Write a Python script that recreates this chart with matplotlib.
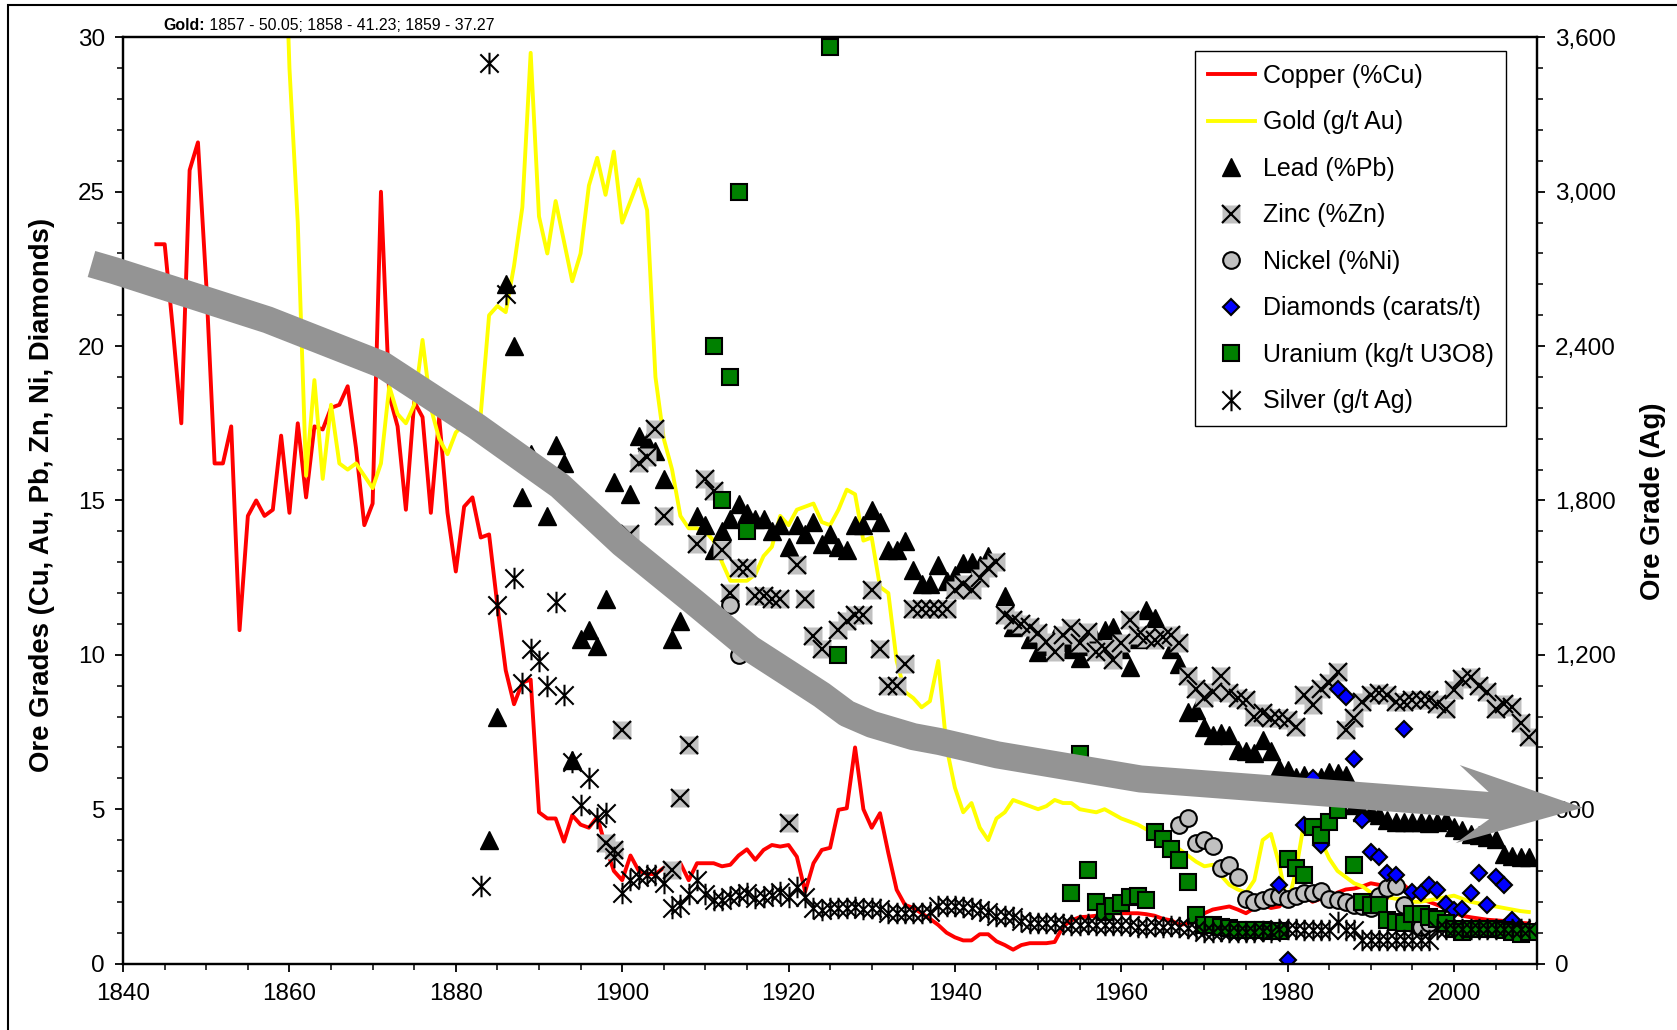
import matplotlib
matplotlib.use("Agg")
import matplotlib.pyplot as plt
from matplotlib.lines import Line2D
from matplotlib.patches import Polygon, Rectangle
from matplotlib.path import Path
from matplotlib.ticker import MultipleLocator, StrMethodFormatter

plt.rcParams['font.family'] = ['Liberation Sans', 'DejaVu Sans']

# ---- data ----
copper_years = list(range(1844, 2010))
copper = [23.3, 23.3, 20.5, 17.5, 25.7, 26.6, 22.0, 16.2, 16.2, 17.4,
          10.8, 14.5, 15.0, 14.5, 14.7, 17.1, 14.6, 17.5, 15.1, 17.4,
          17.3, 18.0, 18.1, 18.7, 16.7, 14.2, 14.9, 25.0, 18.4, 17.4,
          14.7, 18.2, 17.7, 14.6, 17.7, 14.6, 12.7, 14.8, 15.1, 13.8,
          13.9, 11.6, 9.5, 8.4, 9.1, 9.2, 4.9, 4.7, 4.7, 3.95,
          4.8, 4.5, 4.4, 4.75, 3.8, 3.0, 2.7, 3.5, 3.0, 2.9,
          2.9, 3.1, 3.2, 3.25, 2.7, 3.25, 3.25, 3.25, 3.15, 3.2,
          3.5, 3.7, 3.36, 3.68, 3.84, 3.79, 3.84, 3.46, 2.33, 3.25,
          3.68, 3.75, 4.98, 5.03, 7.0, 5.0, 4.4, 4.87, 3.58, 2.39,
          1.9, 1.8, 1.63, 1.45, 1.25, 1.0, 0.85, 0.75, 0.75, 0.95,
          0.95, 0.72, 0.6, 0.45, 0.6, 0.66, 0.66, 0.66, 0.7, 1.2,
          1.4, 1.5, 1.52, 1.55, 1.6, 1.63, 1.63, 1.63, 1.63, 1.6,
          1.55, 1.45, 1.4, 1.25, 1.3, 1.42, 1.63, 1.75, 1.8, 1.85,
          1.75, 1.63, 1.8, 1.9, 1.8, 1.85, 2.2, 2.4, 2.2, 2.0,
          2.1, 2.1, 2.3, 2.4, 2.43, 2.5, 2.6, 2.55, 2.54, 2.54,
          2.54, 2.3, 2.1, 2.0, 1.9, 1.78, 1.65, 1.55, 1.5, 1.46,
          1.42, 1.4, 1.38, 1.35, 1.32, 1.3]

gold_years = list(range(1857, 2010))
gold = [50.05, 41.23, 37.27, 29.0, 24.0, 15.8, 18.9, 15.7, 18.1, 16.2,
        16.0, 16.2, 15.8, 15.4, 16.2, 18.7, 17.8, 17.5, 18.1, 20.2,
        18.0, 17.0, 16.5, 17.2, 17.5, 17.2, 17.8, 21.0, 21.3, 21.1,
        22.6, 24.5, 29.5, 24.2, 23.0, 24.7, 23.4, 22.1, 23.0, 25.2,
        26.1, 24.9, 26.3, 24.0, 24.7, 25.4, 24.4, 19.0, 17.0, 16.0,
        14.5, 14.1, 14.1, 14.0, 13.7, 13.0, 12.4, 12.4, 12.4, 12.6,
        13.2, 13.5, 14.5, 14.2, 14.7, 14.8, 14.9, 14.3, 14.2, 14.7,
        15.35, 15.2, 13.7, 13.8, 12.2, 12.0, 9.8, 8.8, 8.6, 8.3,
        8.5, 9.8, 7.0, 5.7, 4.9, 5.2, 4.4, 4.0, 4.7, 4.9,
        5.3, 5.2, 5.1, 5.0, 5.1, 5.3, 5.2, 5.2, 5.0, 4.95,
        4.9, 5.0, 4.85, 4.7, 4.6, 4.5, 4.35, 4.2, 4.0, 3.9,
        3.7, 3.5, 3.3, 3.15, 3.2, 2.85, 2.55, 2.4, 2.3, 2.7,
        4.0, 4.2, 3.2, 1.9, 3.0, 4.6, 4.5, 4.0, 3.4, 3.0,
        2.8, 2.6, 2.5, 2.3, 2.2, 2.15, 2.1, 2.1, 2.0, 2.0,
        2.05, 2.1, 2.15, 2.2, 2.1, 2.0, 1.95, 1.9, 1.85, 1.8,
        1.75, 1.7, 1.67]

lead_years = [1884, 1885, 1886, 1887, 1888, 1889, 1891, 1892, 1893, 1894,
              1895, 1896, 1897, 1898, 1899, 1901, 1902, 1903, 1904, 1905,
              1906, 1907, 1909, 1910, 1911, 1912, 1913, 1914, 1915, 1916,
              1917, 1918, 1919, 1920, 1921, 1922, 1923, 1924, 1925, 1926,
              1927, 1928, 1929, 1930, 1931, 1932, 1933, 1934, 1935, 1936,
              1937, 1938, 1939, 1940, 1941, 1942, 1943, 1944, 1946, 1947,
              1948, 1949, 1950, 1951, 1952, 1953, 1954, 1955, 1956, 1957,
              1958, 1959, 1960, 1961, 1962, 1963, 1964, 1965, 1966, 1967,
              1968, 1969, 1970, 1971, 1972, 1973, 1974, 1975, 1976, 1977,
              1978, 1979, 1980, 1981, 1982, 1983, 1984, 1985, 1986, 1987,
              1988, 1989, 1990, 1991, 1992, 1993, 1994, 1995, 1996, 1997,
              1998, 1999, 2000, 2001, 2002, 2003, 2004, 2005, 2006, 2007,
              2008, 2009]
lead = [4.0, 8.0, 22.0, 20.0, 15.1, 16.5, 14.5, 16.8, 16.2, 6.6,
        10.5, 10.8, 10.3, 11.8, 15.6, 15.2, 17.1, 16.9, 16.6, 15.7,
        10.5, 11.1, 14.5, 14.2, 13.4, 14.0, 14.4, 14.9, 14.6, 14.4,
        14.4, 14.0, 14.2, 13.5, 14.2, 13.9, 14.3, 13.6, 13.9, 13.5,
        13.4, 14.2, 14.2, 14.7, 14.3, 13.4, 13.4, 13.7, 12.75, 12.3,
        12.3, 12.9, 12.4, 12.6, 12.97, 13.0, 12.9, 13.2, 11.9, 10.9,
        11.0, 10.5, 10.1, 10.3, 10.6, 10.4, 10.2, 9.9, 10.3, 10.5,
        10.8, 10.9, 10.2, 9.6, 10.5, 11.45, 11.2, 10.6, 10.2, 9.7,
        8.16, 8.2, 7.67, 7.4, 7.46, 7.4, 6.92, 6.87, 6.81, 7.24,
        6.87, 6.32, 6.27, 6.05, 6.1, 5.95, 6.05, 6.2, 6.16, 6.1,
        5.13, 4.9, 4.9, 4.8, 4.64, 4.59, 4.59, 4.59, 4.59, 4.54,
        4.6, 4.64, 4.43, 4.32, 4.21, 4.16, 4.1, 4.05, 3.56, 3.5,
        3.46, 3.46]

zinc_years = [1898, 1899, 1900, 1901, 1902, 1903, 1904, 1905, 1906, 1907,
              1908, 1909, 1910, 1911, 1912, 1913, 1914, 1915, 1916, 1917,
              1918, 1919, 1920, 1921, 1922, 1923, 1924, 1926, 1927, 1928,
              1929, 1930, 1931, 1932, 1933, 1934, 1935, 1936, 1937, 1938,
              1939, 1940, 1941, 1942, 1943, 1944, 1945, 1946, 1947, 1948,
              1949, 1950, 1951, 1952, 1953, 1954, 1955, 1956, 1957, 1958,
              1959, 1960, 1961, 1962, 1963, 1964, 1965, 1966, 1967, 1968,
              1969, 1970, 1971, 1972, 1973, 1974, 1975, 1976, 1977, 1978,
              1979, 1980, 1981, 1982, 1983, 1984, 1985, 1986, 1987, 1988,
              1989, 1990, 1991, 1992, 1993, 1994, 1995, 1996, 1997, 1998,
              1999, 2000, 2001, 2002, 2003, 2004, 2005, 2006, 2007, 2008,
              2009]
zinc = [3.9, 3.68, 7.57, 13.9, 16.2, 16.4, 17.3, 14.5, 3.03, 5.35,
        7.08, 13.6, 15.7, 15.3, 13.4, 12.0, 12.8, 12.8, 11.9, 11.9,
        11.8, 11.8, 4.54, 12.9, 11.8, 10.6, 10.2, 10.8, 11.1, 11.3,
        11.3, 12.1, 10.2, 9.0, 9.0, 9.7, 11.5, 11.5, 11.5, 11.5,
        11.5, 12.1, 12.3, 12.1, 12.5, 12.8, 13.0, 11.3, 11.13, 11.0,
        10.9, 10.7, 10.4, 10.1, 10.65, 10.86, 10.37, 10.75, 10.1, 10.2,
        9.83, 10.37, 11.13, 10.65, 10.54, 10.48, 10.59, 10.65, 10.37, 9.3,
        8.9, 8.6, 8.8, 9.3, 8.75, 8.6, 8.54, 8.0, 8.1, 7.94,
        7.94, 7.89, 7.67, 8.7, 8.37, 8.9, 9.1, 9.45, 7.56, 7.94,
        8.48, 8.7, 8.75, 8.7, 8.48, 8.48, 8.53, 8.53, 8.53, 8.42,
        8.26, 8.86, 9.23, 9.29, 9.0, 8.8, 8.26, 8.42, 8.32, 7.78,
        7.34]

nickel_years = [1913, 1914, 1967, 1968, 1969, 1970, 1971, 1972, 1973, 1974,
                1975, 1976, 1977, 1978, 1979, 1980, 1981, 1982, 1983, 1984,
                1985, 1986, 1987, 1988, 1989, 1990, 1991, 1992, 1993, 1994,
                1995, 1996, 1997]
nickel = [11.6, 10.0, 4.5, 4.7, 3.9, 4.0, 3.8, 3.1, 3.2, 2.8,
          2.1, 2.0, 2.05, 2.15, 2.2, 2.1, 2.2, 2.3, 2.3, 2.35,
          2.1, 2.05, 2.0, 1.9, 1.85, 1.8, 2.2, 2.45, 2.5, 1.9,
          1.3, 1.2, 1.3]

diamond_years = [1979, 1980, 1982, 1983, 1984, 1986, 1987, 1988, 1989, 1990,
                 1991, 1992, 1993, 1994, 1995, 1996, 1997, 1998, 1999, 2000,
                 2001, 2002, 2003, 2004, 2005, 2006, 2007]
diamonds = [2.54, 0.1, 4.48, 6.0, 3.83, 8.9, 8.64, 6.64, 4.64, 3.62,
            3.46, 2.92, 2.86, 7.6, 2.32, 2.27, 2.54, 2.38, 1.94, 1.73,
            1.78, 2.27, 2.92, 1.89, 2.81, 2.54, 1.4]

uranium_years = [1911, 1912, 1913, 1914, 1915, 1925, 1926, 1954, 1955, 1956,
                 1957, 1958, 1959, 1960, 1961, 1962, 1963, 1964, 1965, 1966,
                 1967, 1968, 1969, 1970, 1971, 1972, 1973, 1974, 1975, 1976,
                 1977, 1978, 1979, 1980, 1981, 1982, 1983, 1984, 1985, 1986,
                 1988, 1989, 1990, 1991, 1992, 1993, 1994, 1995, 1996, 1997,
                 1998, 1999, 2000, 2001, 2002, 2003, 2004, 2005, 2006, 2007,
                 2008, 2009]
uranium = [20.0, 15.0, 19.0, 25.0, 14.0, 29.7, 10.0, 2.28, 6.8, 3.03,
           2.0, 1.68, 1.85, 1.95, 2.17, 2.2, 2.05, 4.27, 4.05, 3.7,
           3.35, 2.65, 1.58, 1.25, 1.25, 1.2, 1.15, 1.1, 1.1, 1.1,
           1.1, 1.05, 1.05, 3.4, 3.08, 2.86, 4.43, 4.16, 4.6, 4.97,
           3.19, 2.0, 1.9, 1.9, 1.4, 1.35, 1.3, 1.6, 1.6, 1.5,
           1.45, 1.3, 1.13, 1.03, 1.13, 1.13, 1.13, 1.13, 1.08, 1.03,
           0.97, 1.03]

# silver in g/t, plotted against the right-hand axis
silver_years = list(range(1883, 2010))
silver = [300, 3500, 1392, 2604, 1500, 1092, 1224, 1176, 1080, 1404,
          1044, 785, 617, 720, 564, 584, 415, 274, 324, 336,
          344, 344, 312, 216, 228, 272, 324, 272, 247, 247,
          260, 266, 274, 254, 260, 266, 280, 260, 299, 260,
          215, 209, 215, 215, 215, 218, 214, 215, 212, 197,
          197, 198, 196, 197, 200, 222, 222, 224, 220, 215,
          210, 200, 186, 186, 180, 165, 157, 158, 157, 156,
          155, 151, 151, 152, 151, 150, 151, 148, 148, 144,
          144, 145, 144, 145, 144, 140, 136, 124, 124, 125,
          124, 124, 123, 124, 125, 124, 136, 136, 134, 132,
          132, 131, 132, 162, 132, 132, 91, 92, 90, 91,
          90, 91, 92, 90, 91, 136, 136, 135, 136, 134,
          136, 135, 136, 134, 135, 136, 134]

# decorative trend arrow (centre line, data units)
arrow_x = [1836.2, 1839.0, 1857.4, 1871.2, 1882.5, 1892.5, 1900.0, 1908.6,
           1915.4, 1920.0, 1924.0, 1927.0, 1930.0, 1935.0, 1938.2, 1945.1,
           1962.3, 1986.3, 2004.6]
arrow_y = [22.66, 22.44, 20.85, 19.39, 17.4, 15.48, 13.6, 11.72,
           10.2, 9.4, 8.7, 8.1, 7.75, 7.35, 7.19, 6.76,
           5.98, 5.49, 5.11]
arrow_head = [(2000.7, 6.43), (2015.5, 5.05), (2000.2, 3.90),
              (2004.2, 4.67), (2004.2, 5.55)]

# ---- figure ----
fig = plt.figure(figsize=(16.77, 10.30), dpi=100)
ax = fig.add_axes([0.0734, 0.0645, 0.8432, 0.8992])
ax2 = ax.twinx()

grey = '#c0c0c0'
ax.plot(copper_years, copper, color='#ff0000', lw=2.8, zorder=2)
ax.plot(gold_years, gold, color='#ffff00', lw=2.8, zorder=2)
ax.plot(lead_years, lead, ls='', marker='^', ms=13, color='black', zorder=3)
ax.plot(zinc_years, zinc, ls='', marker='s', ms=12.5, mfc=grey, mec='none', zorder=4)
ax.plot(zinc_years, zinc, ls='', marker='x', ms=12.5, mew=1.6, color='black', zorder=4)
ax.plot(nickel_years, nickel, ls='', marker='o', ms=12, mfc=grey, mec='black', mew=1.5, zorder=5)
ax.plot(diamond_years, diamonds, ls='', marker='D', ms=8.5, mfc='#0000ff', mec='black', mew=1.5, zorder=6)
ax.plot(uranium_years, uranium, ls='', marker='s', ms=12, mfc='#008000', mec='black', mew=1.5, zorder=7)

star = Path([(-0.85, -0.85), (0.85, 0.85), (-0.85, 0.85), (0.85, -0.85), (0, -1), (0, 1)],
            [Path.MOVETO, Path.LINETO, Path.MOVETO, Path.LINETO, Path.MOVETO, Path.LINETO])
ax2.plot(silver_years, silver, ls='', marker=star, ms=15.5, mew=1.5, mec='black', mfc='none', zorder=3)

# trend arrow drawn on top of everything (also over the right tick labels)
ax2.plot(arrow_x, arrow_y, color='#949494', lw=19.5, solid_capstyle='butt',
         solid_joinstyle='round', transform=ax.transData, clip_on=False, zorder=10)
ax2.add_patch(Polygon(arrow_head, closed=True, facecolor='#949494', edgecolor='none',
                      transform=ax.transData, clip_on=False, zorder=10))

# ---- axes ----
ax.set_xlim(1840, 2010)
ax.set_ylim(0, 30)
ax2.set_ylim(0, 3600)
ax.xaxis.set_major_locator(MultipleLocator(20))
ax.xaxis.set_minor_locator(MultipleLocator(5))
ax.yaxis.set_major_locator(MultipleLocator(5))
ax.yaxis.set_minor_locator(MultipleLocator(1))
ax2.yaxis.set_major_locator(MultipleLocator(600))
ax2.yaxis.set_minor_locator(MultipleLocator(120))
ax2.yaxis.set_major_formatter(StrMethodFormatter('{x:,.0f}'))

for a in (ax, ax2):
    for s in a.spines.values():
        s.set_linewidth(1.6)
    a.tick_params(which='major', direction='out', length=6, width=1.3, labelsize=17.5, pad=7)
    a.tick_params(which='minor', direction='out', length=4, width=1.1)
ax.tick_params(axis='x', which='major', pad=8)

ax.set_ylabel('Ore Grades (Cu, Au, Pb, Zn, Ni, Diamonds)', fontsize=19.8, fontweight='bold')
ax.yaxis.set_label_coords(-0.048, 0.506)
ax2.set_ylabel('Ore Grade (Ag)', fontsize=19.8, fontweight='bold', rotation=90)
ax2.yaxis.set_label_coords(1.073, 0.499)

# ---- legend ----
handles = [
    Line2D([], [], color='#ff0000', lw=2.8),
    Line2D([], [], color='#ffff00', lw=2.8),
    Line2D([], [], ls='', marker='^', ms=13, color='black'),
    (Line2D([], [], ls='', marker='s', ms=12.5, mfc=grey, mec='none'),
     Line2D([], [], ls='', marker='x', ms=12.5, mew=1.6, color='black')),
    Line2D([], [], ls='', marker='o', ms=12, mfc=grey, mec='black', mew=1.5),
    Line2D([], [], ls='', marker='D', ms=8.5, mfc='#0000ff', mec='black', mew=1.5),
    Line2D([], [], ls='', marker='s', ms=12, mfc='#008000', mec='black', mew=1.5),
    Line2D([], [], ls='', marker=star, ms=15.5, mew=1.5, mec='black', mfc='none'),
]
labels = ['Copper (%Cu)', 'Gold (g/t Au)', 'Lead (%Pb)', 'Zinc (%Zn)', 'Nickel (%Ni)',
          'Diamonds (carats/t)', 'Uranium (kg/t U3O8)', 'Silver (g/t Ag)']
leg = ax2.legend(handles, labels, loc='upper right', bbox_to_anchor=(0.978, 0.985),
                 fontsize=18, frameon=True, fancybox=False, edgecolor='black',
                 framealpha=1, borderpad=0.5, labelspacing=0.9, handlelength=1.9,
                 handletextpad=0.3, borderaxespad=0)
leg.get_frame().set_linewidth(1.0)
leg.set_zorder(20)

# ---- note on off-chart gold values ----
t1 = fig.text(0.0976, 0.975, 'Gold:', fontsize=11.4, fontweight='bold', va='center')
ax.annotate(' 1857 - 50.05; 1858 - 41.23; 1859 - 37.27', xy=(1, 0.5), xycoords=t1,
            va='center', ha='left', fontsize=11.4, annotation_clip=False)

# outer frame of the original picture
fig.patches.append(Rectangle((0.005, -0.01), 1.0, 1.0048, transform=fig.transFigure,
                             fill=False, edgecolor='black', lw=1.5))

fig.savefig('out.png', dpi=100)
